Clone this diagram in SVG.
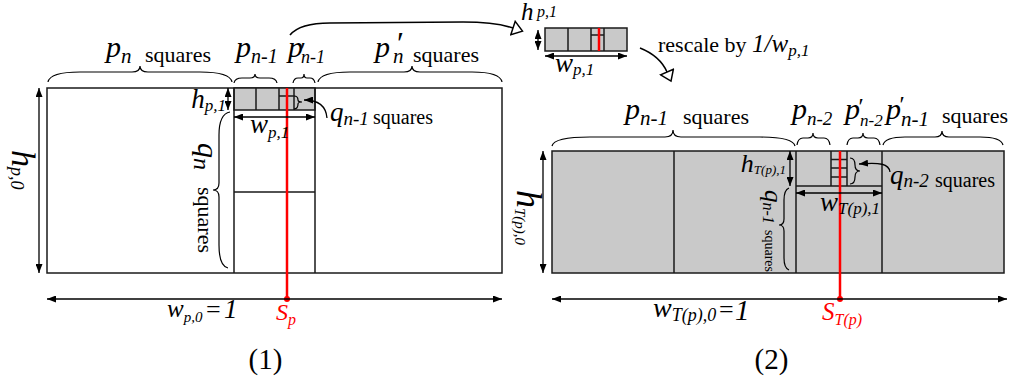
<svg xmlns="http://www.w3.org/2000/svg" width="1021" height="383" viewBox="0 0 1021 383">
<defs>
<style>
.o{fill:none;stroke:#1a1a1a;stroke-width:1.5}
.g{fill:#c9c9c9;stroke:#1a1a1a;stroke-width:1.5}
.r{stroke:#ff0000;stroke-width:2.5;fill:none}
.a{fill:none;stroke:#000;stroke-width:1.3;marker-start:url(#ah);marker-end:url(#ah)}
.a1{fill:none;stroke:#000;stroke-width:1.3;marker-end:url(#ah)}
.big{fill:none;stroke:#000;stroke-width:1.6;marker-end:url(#tri)}
.b{fill:none;stroke:#000;stroke-width:1.2}
text{font-family:"Liberation Serif","Times New Roman",serif;fill:#000}
.i{font-style:italic}
.red{fill:#ff0000}
</style>
<marker id="ah" viewBox="0 0 9 7" refX="9" refY="3.5" markerWidth="9" markerHeight="7" markerUnits="userSpaceOnUse" orient="auto-start-reverse"><path d="M0,0 L9,3.5 L0,7 z" fill="#000"/></marker>
<marker id="tri" viewBox="0 0 13 16" refX="1" refY="8" markerWidth="13" markerHeight="16" markerUnits="userSpaceOnUse" orient="auto"><path d="M1,1 L11,8 L1,15 z" fill="#fff" stroke="#000" stroke-width="1.5"/></marker>
</defs>
<rect width="1021" height="383" fill="#fff"/>

<g id="left-diagram">
<rect class="o" x="47" y="88" width="455" height="185"/>
<rect class="g" x="234" y="88" width="81" height="22"/>
<path class="o" d="M234,88 V273 M315,88 V273 M234,192 H315 M256,88 V110 M279,88 V110 M294,88 V110 M279,96 H294"/>
<path class="r" d="M287,88 V299"/>
<circle cx="287" cy="299" r="3" fill="#ff0000"/>
<path class="a" d="M228,88 V110"/>
<path class="a" d="M234,117 H315"/>
<path class="a" d="M39,88 V273"/>
<path class="a" d="M47,299 H502"/>
<path class="b" d="M48,82 Q50,72 80,72 L132,72 Q140,72 140,66 Q140,72 148,72 L200,72 Q230,72 232,82"/>
<path class="b" d="M234,83 Q235,78 242,78 L250,78 Q255,78 255,74 Q255,78 260,78 L269,78 Q276,78 277,83"/>
<path class="b" d="M293,83 Q294,78 298,78 L301,78 Q304,78 304,74 Q304,78 307,78 L310,78 Q314,78 315,83"/>
<path class="b" d="M318,82 Q320,72 350,72 L404,72 Q412,72 412,66 Q412,72 420,72 L472,72 Q500,72 502,82"/>
<path class="b" d="M230,112 Q219,114 219,135 L219,183 Q219,190 213,190 Q219,190 219,197 L219,245 Q219,266 228,268"/>
<path class="b" d="M294,96 Q298,96 298,100 Q298,102 302,102 Q298,102 298,104 Q298,109 294,109"/>
<path class="a1" d="M327,118 C326,106 318,100 304,100"/>
<text class="i" x="106" y="57" font-size="30">p<tspan font-size="21" dy="6">n</tspan></text>
<text x="145" y="62" font-size="22">squares</text>
<text class="i" x="236" y="57" font-size="30">p<tspan font-size="20" dy="6">n-1</tspan></text>
<text class="i" x="288" y="57" font-size="30">p<tspan x="299" y="58" font-size="24">′</tspan><tspan x="301" y="63" font-size="18">n-1</tspan></text>
<text class="i" x="375" y="57" font-size="30">p<tspan x="395" y="54" font-size="32">′</tspan><tspan x="393" y="63" font-size="21">n</tspan></text>
<text x="413" y="62" font-size="22">squares</text>
<text class="i" x="226" y="108" font-size="27" text-anchor="end">h<tspan font-size="17" dy="3">p,1</tspan></text>
<text class="i" x="250" y="133" font-size="27">w<tspan font-size="17" dy="5">p,1</tspan></text>
<text class="i" x="330" y="121" font-size="27">q<tspan font-size="19" dy="4">n-1</tspan></text>
<text x="373" y="124" font-size="20">squares</text>
<text class="i" transform="translate(198,143) rotate(90)" font-size="30">q<tspan font-size="24" dy="4">n</tspan></text>
<text transform="translate(198,143) rotate(90)" x="44" font-size="22">squares</text>
<text class="i" transform="translate(12,150) rotate(90)" font-size="34">h<tspan font-size="18" dy="1">p,0</tspan></text>
<text class="i" x="167" y="317" font-size="25">w<tspan font-size="15" dy="5">p,0</tspan></text>
<text x="206" y="318" font-size="26">=</text>
<text class="i" x="224" y="318" font-size="27">1</text>
<text class="i red" x="276" y="320" font-size="24">S<tspan font-size="16" dy="5">p</tspan></text>
<text x="265.5" y="369" font-size="29" text-anchor="middle">(1)</text>
</g>

<g id="small-strip">
<rect class="g" x="545" y="28" width="82" height="23"/>
<path class="o" d="M568,28 V51 M591,28 V51 M604,28 V51 M591,35 H604"/>
<path class="r" d="M599,28 V51"/>
<path class="a" d="M538,30 V50"/>
<path class="a" d="M545,56 H627"/>
<text class="i" x="521" y="20" font-size="25">h<tspan x="537" y="17" font-size="16">p,1</tspan></text>
<text class="i" x="555" y="72" font-size="27">w<tspan font-size="17" dy="3">p,1</tspan></text>
<text x="658" y="52" font-size="22">rescale by<tspan class="i" x="752" font-size="25">1/w</tspan><tspan class="i" font-size="17" dy="4">p,1</tspan></text>
</g>

<g id="right-diagram">
<rect class="g" x="552" y="151" width="452" height="122"/>
<path class="o" d="M674,151 V273 M796,151 V273 M882,151 V273 M796,186 H882 M831,151 V186 M847,151 V186 M831,159.5 H847 M831,168 H847 M831,177 H847"/>
<path class="r" d="M840,151 V299"/>
<circle cx="840" cy="299" r="3" fill="#ff0000"/>
<path class="a" d="M790,151 V186"/>
<path class="a" d="M796,193 H882"/>
<path class="a" d="M543,151 V273"/>
<path class="a" d="M552,299 H1007"/>
<path class="b" d="M552,146 Q554,137 590,137 L665,137 Q673,137 673,130 Q673,137 681,137 L760,137 Q793,137 795,146"/>
<path class="b" d="M797,145 Q798,138 803,138 L808,138 Q813,138 813,133 Q813,138 818,138 L824,138 Q829,138 830,145"/>
<path class="b" d="M847,145 Q848,138 853,138 L858,138 Q863,138 863,133 Q863,138 868,138 L874,138 Q879,138 880,145"/>
<path class="b" d="M883,145 Q885,137 905,137 L935,137 Q942,137 942,131 Q942,137 949,137 L980,137 Q1001,137 1003,145"/>
<path class="b" d="M789,188 Q784,190 784,200 L784,219 Q784,225 779,225 Q784,225 784,231 L784,258 Q784,268 789,270"/>
<path class="b" d="M850,158 Q855,158 855,165 Q855,171 860,171 Q855,171 855,177 Q855,184 850,184"/>
<path class="a1" d="M890,172 C889,164 880,162 859,164"/>
<text class="i" x="625" y="119" font-size="30">p<tspan font-size="21" dy="6">n-1</tspan></text>
<text x="683" y="124" font-size="22">squares</text>
<text class="i" x="792" y="119" font-size="30">p<tspan font-size="19" dy="6">n-2</tspan></text>
<text class="i" x="845" y="119" font-size="30">p<tspan x="857" y="114" font-size="24">′</tspan><tspan x="860" y="126" font-size="17">n-2</tspan></text>
<text class="i" x="886" y="119" font-size="30">p<tspan x="898" y="112" font-size="24">′</tspan><tspan x="901" y="126" font-size="21">n-1</tspan></text>
<text x="942" y="123" font-size="22">squares</text>
<text class="i" x="786" y="172" font-size="26" text-anchor="end">h<tspan font-size="13" dy="2">T(p),1</tspan></text>
<text class="i" x="820" y="211" font-size="27">w<tspan font-size="17" dy="3">T(p),1</tspan></text>
<text class="i" x="890" y="184" font-size="27">q<tspan font-size="19" dy="3">n-2</tspan></text>
<text x="935" y="187" font-size="20">squares</text>
<text class="i" transform="translate(765,190) rotate(90)" font-size="25">q<tspan font-size="16" dy="2">n-1</tspan></text>
<text transform="translate(765,190) rotate(90)" x="40" font-size="14">squares</text>
<text class="i" transform="translate(517,190) rotate(90)" font-size="36">h<tspan font-size="15" dy="2">T(p),0</tspan></text>
<text class="i" x="653" y="317" font-size="28">w<tspan font-size="18" dy="4">T(p),0</tspan></text>
<text x="719" y="318" font-size="26">=</text>
<text class="i" x="735" y="320" font-size="29">1</text>
<text class="i red" x="822" y="320" font-size="25">S<tspan font-size="16" dy="5">T(p)</tspan></text>
<text x="771.5" y="369" font-size="29" text-anchor="middle">(2)</text>
</g>

<g id="connectors">
<path class="big" d="M290,35 Q300,23 330,23 L463,22 Q495,22 513,28"/>
<path class="big" d="M640,48 Q660,56 667,72"/>
</g>
</svg>
